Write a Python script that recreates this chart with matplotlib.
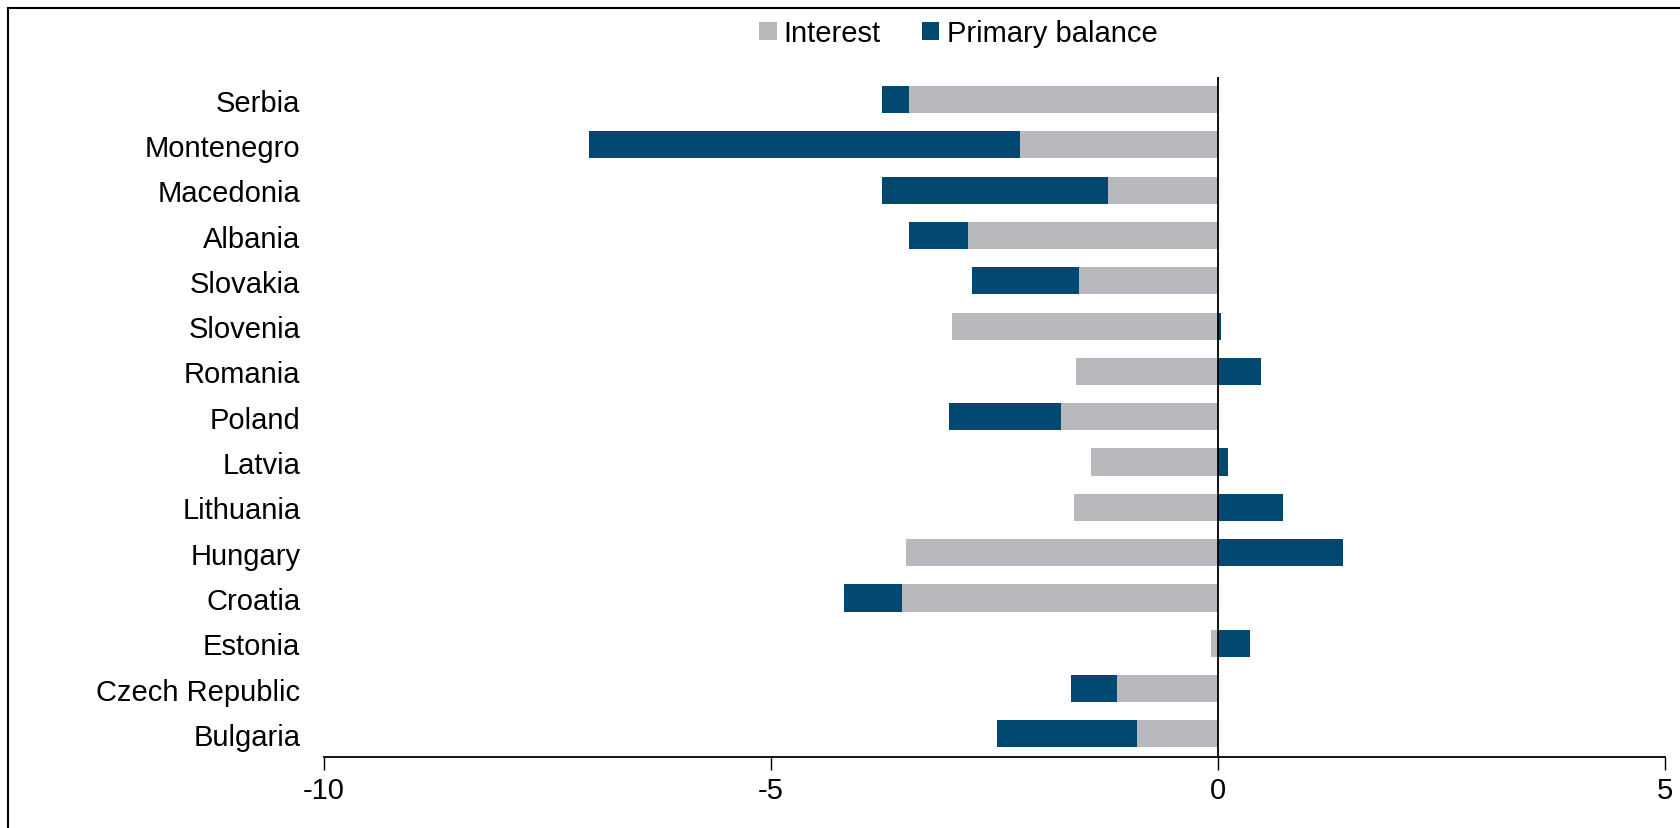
import matplotlib.pyplot as plt
from matplotlib.patches import Rectangle

plt.rcParams['font.family'] = ['Liberation Sans', 'DejaVu Sans']

countries = ['Serbia', 'Montenegro', 'Macedonia', 'Albania', 'Slovakia', 'Slovenia',
             'Romania', 'Poland', 'Latvia', 'Lithuania', 'Hungary', 'Croatia',
             'Estonia', 'Czech Republic', 'Bulgaria']
interest = [-3.46, -2.21, -1.23, -2.80, -1.55, -2.98, -1.59, -1.76, -1.42, -1.61,
            -3.49, -3.53, -0.08, -1.13, -0.91]
primary = [-0.30, -4.82, -2.53, -0.66, -1.20, 0.03, 0.48, -1.25, 0.11, 0.73,
           1.40, -0.65, 0.36, -0.51, -1.56]
xticks = [-10, -5, 0, 5]

grey = '#B8B9BC'
navy = '#004870'

fig = plt.figure(figsize=(16.81, 8.29), dpi=100)
ax = fig.add_axes([0.1927, 0.0862, 0.7978, 0.8198])

y = list(range(len(countries)))[::-1]
# primary balance stacks onto interest when both are negative
left_p = [i if p < 0 else 0 for i, p in zip(interest, primary)]

ax.barh(y, interest, height=0.6, color=grey, label='Interest')
ax.barh(y, primary, left=left_p, height=0.6, color=navy, label='Primary balance')

ax.axvline(0, color='black', lw=1.3)
ax.set_xlim(-10, 5)
ax.set_ylim(-0.5, len(countries) - 0.5)
ax.set_xticks(xticks)
ax.set_xticklabels([str(t) for t in xticks])
ax.set_yticks(y)
ax.set_yticklabels(countries)
ax.tick_params(axis='y', length=0, labelsize=21, pad=17)
ax.tick_params(axis='x', length=9, width=1, labelsize=21, pad=5)
for s in ['top', 'right', 'left']:
    ax.spines[s].set_visible(False)
ax.spines['bottom'].set_linewidth(1.3)

fig.legend(loc='upper center', bbox_to_anchor=(0.57, 1.007), ncol=2, frameon=False,
           fontsize=21, handlelength=0.6, handleheight=0.6, handletextpad=0.25,
           columnspacing=1.4)

# outer border of the chart
fig.patches.append(Rectangle((8 / 1681, -0.05), 1.1, 1 - 9 / 829 + 0.05,
                             transform=fig.transFigure, fill=False,
                             edgecolor='black', lw=1.5))

fig.savefig('out.png', dpi=100)
